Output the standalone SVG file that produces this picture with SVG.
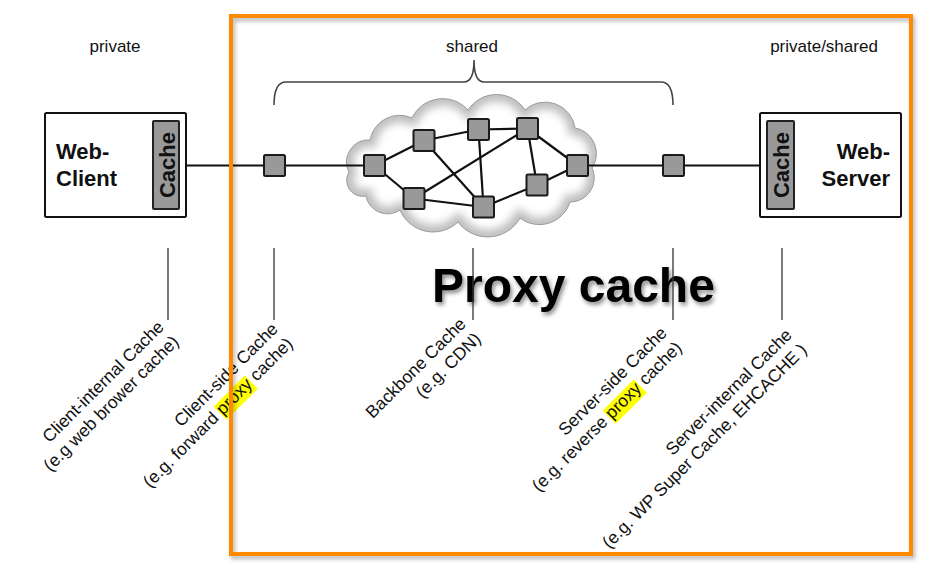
<svg xmlns="http://www.w3.org/2000/svg" width="934" height="578" viewBox="0 0 934 578">
<style>
.hdr{font-family:"Liberation Sans",Arial,sans-serif;font-size:17px;fill:#111;text-anchor:middle}
.box{fill:#fff;stroke:#111;stroke-width:2}
.cache{fill:#999;stroke:#222;stroke-width:2}
.ctxt{font-family:"Liberation Sans",Arial,sans-serif;font-weight:bold;font-size:22px;fill:#111;text-anchor:middle}
.btxt{font-family:"Liberation Sans",Arial,sans-serif;font-weight:bold;font-size:22px;fill:#111}
.node{fill:#999;stroke:#1a1a1a;stroke-width:2}
.edge{stroke:#111;stroke-width:2.2;fill:none}
.main{stroke:#111;stroke-width:2;fill:none}
.vline{stroke:#333;stroke-width:1.3}
.lbl{font-family:"Liberation Sans",Arial,sans-serif;font-size:17.5px;fill:#111;text-anchor:end}
.hl{fill:#ffff00}
</style>
<defs>
<path id="cloudShape" d="M349,172 A22,22 0 0 1 370,140 A30,30 0 0 1 412,118 A34,34 0 0 1 468,110 A34,34 0 0 1 525,110 A30,30 0 0 1 575,128 A26,26 0 0 1 592,168 A24,24 0 0 1 570,202 A32,32 0 0 1 520,218 A37,37 0 0 1 458,222 A36,36 0 0 1 400,210 A22,22 0 0 1 366,196 A16,16 0 0 1 349,172 Z"/>
<clipPath id="cloudClip"><use href="#cloudShape"/></clipPath>
<filter id="blur" x="-20%" y="-20%" width="140%" height="140%"><feGaussianBlur stdDeviation="4"/></filter>
<filter id="shadow" x="-5%" y="-5%" width="110%" height="110%"><feDropShadow dx="2" dy="3" stdDeviation="2" flood-color="#000" flood-opacity="0.3"/></filter>
<filter id="tshadow" x="-10%" y="-30%" width="120%" height="160%"><feDropShadow dx="2" dy="3" stdDeviation="2" flood-color="#000" flood-opacity="0.45"/></filter>
</defs>
<rect width="934" height="578" fill="#fff"/>

<g id="headers">
<text class="hdr" x="115" y="52">private</text>
<text class="hdr" x="472" y="52">shared</text>
<text class="hdr" x="824" y="52">private/shared</text>
</g>

<g id="brace">
<path d="M274,105 Q274,82 286,82 L464,82 Q474,82 474,60 Q474,82 484,82 L661,82 Q673,82 673,105" fill="none" stroke="#444" stroke-width="1.6"/>
</g>

<g id="cloud">
<g clip-path="url(#cloudClip)">
<use href="#cloudShape" fill="#fff"/>
<use href="#cloudShape" fill="none" stroke="#bdbdbd" stroke-width="14" filter="url(#blur)"/>
</g>
<use href="#cloudShape" fill="none" stroke="#9a9a9a" stroke-width="1"/>
</g>

<g id="connectors">
<line class="main" x1="186" y1="165.5" x2="364" y2="165.5"/>
<line class="main" x1="588" y1="165.5" x2="760" y2="165.5"/>
<line class="edge" x1="374.5" y1="165.5" x2="424" y2="140.5"/>
<line class="edge" x1="374.5" y1="165.5" x2="414" y2="198.5"/>
<line class="edge" x1="424" y1="140.5" x2="478.5" y2="129.5"/>
<line class="edge" x1="424" y1="140.5" x2="483.5" y2="207"/>
<line class="edge" x1="478.5" y1="129.5" x2="527.5" y2="128.5"/>
<line class="edge" x1="478.5" y1="129.5" x2="483.5" y2="207"/>
<line class="edge" x1="527.5" y1="128.5" x2="414" y2="198.5"/>
<line class="edge" x1="527.5" y1="128.5" x2="537" y2="185"/>
<line class="edge" x1="527.5" y1="128.5" x2="577.5" y2="165.5"/>
<line class="edge" x1="414" y1="198.5" x2="483.5" y2="207"/>
<line class="edge" x1="483.5" y1="207" x2="537" y2="185"/>
<line class="edge" x1="537" y1="185" x2="577.5" y2="165.5"/>
</g>

<g id="web-client">
<rect class="box" x="45" y="113" width="141" height="104" rx="1.5"/>
<text class="btxt" x="56" y="159">Web-</text>
<text class="btxt" x="56" y="186">Client</text>
<rect class="cache" x="153" y="121" width="26" height="88" rx="1"/>
<text class="ctxt" transform="translate(175,165) rotate(-90)">Cache</text>
</g>

<g id="web-server">
<rect class="box" x="760" y="113" width="141" height="104" rx="1.5"/>
<text class="btxt" x="890" y="159" text-anchor="end">Web-</text>
<text class="btxt" x="890" y="186" text-anchor="end">Server</text>
<rect class="cache" x="767" y="121" width="27" height="88" rx="1"/>
<text class="ctxt" transform="translate(789,165) rotate(-90)">Cache</text>
</g>

<g id="nodes">
<rect id="n-client-side" class="node" x="264" y="155" width="21" height="21" rx="1.5"/>
<rect id="n-server-side" class="node" x="663" y="155" width="21" height="21" rx="1.5"/>
<rect id="n1" class="node" x="364" y="155" width="21" height="21" rx="1.5"/>
<rect id="n2" class="node" x="413.5" y="130" width="21" height="21" rx="1.5"/>
<rect id="n3" class="node" x="468" y="119" width="21" height="21" rx="1.5"/>
<rect id="n4" class="node" x="517" y="118" width="21" height="21" rx="1.5"/>
<rect id="n5" class="node" x="567" y="155" width="21" height="21" rx="1.5"/>
<rect id="n6" class="node" x="526.5" y="174.5" width="21" height="21" rx="1.5"/>
<rect id="n7" class="node" x="473" y="196.5" width="21" height="21" rx="1.5"/>
<rect id="n8" class="node" x="403.5" y="188" width="21" height="21" rx="1.5"/>
</g>

<g id="proxy-title">
<text x="432" y="302" font-family="'Liberation Sans',Arial,sans-serif" font-weight="bold" font-size="48" fill="#000" filter="url(#tshadow)">Proxy cache</text>
</g>

<g id="pointer-lines">
<line class="vline" x1="168" y1="248" x2="168" y2="320" stroke="#555"/>
<line class="vline" x1="274" y1="248" x2="274" y2="320"/>
<line class="vline" x1="473" y1="248" x2="473" y2="320"/>
<line class="vline" x1="673" y1="248" x2="673" y2="320"/>
<line class="vline" x1="782" y1="248" x2="782" y2="320"/>
</g>

<g id="label-client-internal" transform="translate(165,328) rotate(-45)">
<text class="lbl" x="0" y="0">Client-internal Cache</text>
<text class="lbl" x="0" y="21">(e.g web brower cache)</text>
</g>
<g id="label-client-side" transform="translate(279,330) rotate(-45)">
<rect class="hl" x="-100.5" y="8" width="44" height="18.5"/>
<text class="lbl" x="0" y="0">Client-side Cache</text>
<text class="lbl" x="0" y="21">(e.g. forward proxy cache)</text>
</g>
<g id="label-backbone" transform="translate(467,325) rotate(-45)">
<text class="lbl" x="0" y="0">Backbone Cache</text>
<text class="lbl" x="0" y="21">(e.g. CDN)</text>
</g>
<g id="label-server-side" transform="translate(668,334) rotate(-45)">
<rect class="hl" x="-100.5" y="8" width="44" height="18.5"/>
<text class="lbl" x="0" y="0">Server-side Cache</text>
<text class="lbl" x="0" y="21">(e.g. reverse proxy cache)</text>
</g>
<g id="label-server-internal" transform="translate(793,336) rotate(-45)">
<text class="lbl" x="0" y="0">Server-internal Cache</text>
<text class="lbl" x="0" y="21">(e.g. WP Super Cache, EHCACHE )</text>
</g>

<g id="proxy-frame">
<rect x="231" y="16" width="680" height="538" fill="none" stroke="#ff8a00" stroke-width="4" filter="url(#shadow)"/>
</g>
</svg>
